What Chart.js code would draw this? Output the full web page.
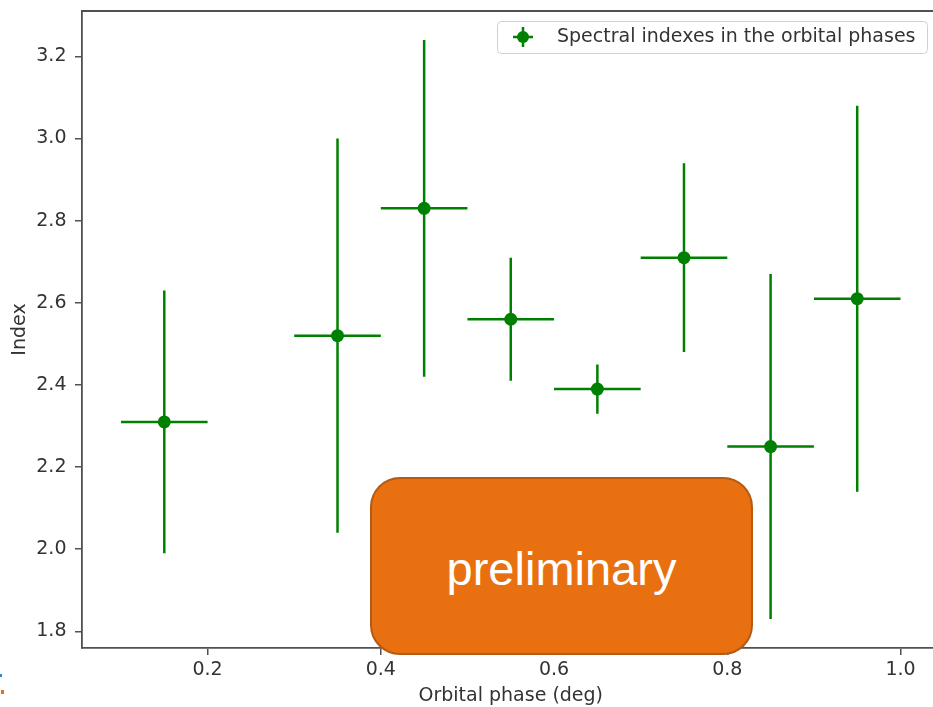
<!DOCTYPE html>
<html>
<head>
<meta charset="utf-8">
<title>Spectral indexes in the orbital phases</title>
<script src="https://cdn.jsdelivr.net/npm/chart.js@4.4.0/dist/chart.umd.min.js"></script>
<style>
  html, body { margin: 0; padding: 0; overflow: hidden; background: #fff; width: 933px; height: 707px; }
  #wrap { position: relative; width: 933px; height: 707px; overflow: hidden; }
  #plot { position: absolute; left: 0; top: 0; }
  #stamp {
    position: absolute; left: 370px; top: 477px; width: 379px; height: 170px; padding-top: 4px;
    border: 2px solid #b45a12; border-radius: 30px; background: #e97011;
    color: #fff; font-family: "Liberation Sans", Arial, sans-serif; font-size: 47px;
    display: flex; align-items: center; justify-content: center;
  }
  .dot { position: absolute; }
</style>
</head>
<body>
<div id="wrap">
  <canvas id="plot" width="946" height="707"></canvas>
  <div id="stamp">preliminary</div>
  <div class="dot" style="left:0;top:674px;width:2px;height:3px;background:#2b8ad6;"></div>
  <div class="dot" style="left:1px;top:690px;width:3px;height:4px;background:#e8711a;"></div>
</div>
<script>
// Orbital phase bins (centre and half width) and the fitted spectral index with its uncertainty
const phases       = [0.15, 0.35, 0.45, 0.55, 0.65, 0.75, 0.85, 0.95];
const phaseErrors  = [0.05, 0.05, 0.05, 0.05, 0.05, 0.05, 0.05, 0.05];
const indexValues  = [2.31, 2.52, 2.83, 2.56, 2.39, 2.71, 2.25, 2.61];
const indexErrors  = [0.32, 0.48, 0.41, 0.15, 0.06, 0.23, 0.42, 0.47];

const xTicks = [0.2, 0.4, 0.6, 0.8, 1.0];
const yTicks = [1.8, 2.0, 2.2, 2.4, 2.6, 2.8, 3.0, 3.2];

const seriesLabel = 'Spectral indexes in the orbital phases';
const xTitle = 'Orbital phase (deg)';
const yTitle = 'Index';

const GREEN = '#008000';
const AXIS = '#505050';
const TEXT = '#333333';
const FONT = '"DejaVu Sans", sans-serif';
const FONT_SIZE = 19;

// Axis limits: data extent (including error bars) padded by 5% on each side
function paddedRange(lo, hi) {
  const m = (hi - lo) * 0.05;
  return [lo - m, hi + m];
}
const [xMin, xMax] = paddedRange(
  Math.min(...phases.map((p, i) => p - phaseErrors[i])),
  Math.max(...phases.map((p, i) => p + phaseErrors[i])));
const [yMin, yMax] = paddedRange(
  Math.min(...indexValues.map((v, i) => v - indexErrors[i])),
  Math.max(...indexValues.map((v, i) => v + indexErrors[i])));

// Horizontal and vertical error bars, drawn beneath the markers
const errorBars = {
  id: 'errorBars',
  beforeDatasetsDraw(chart) {
    const { ctx, scales: { x, y } } = chart;
    ctx.save();
    ctx.strokeStyle = GREEN;
    ctx.lineWidth = 2.5;
    phases.forEach((p, i) => {
      const v = indexValues[i];
      const px = x.getPixelForValue(p);
      const py = y.getPixelForValue(v);
      ctx.beginPath();
      ctx.moveTo(x.getPixelForValue(p - phaseErrors[i]), py);
      ctx.lineTo(x.getPixelForValue(p + phaseErrors[i]), py);
      ctx.moveTo(px, y.getPixelForValue(v - indexErrors[i]));
      ctx.lineTo(px, y.getPixelForValue(v + indexErrors[i]));
      ctx.stroke();
    });
    ctx.restore();
  }
};

// Top and right spines to close the axes box
const frame = {
  id: 'frame',
  afterDraw(chart) {
    const { ctx, chartArea: a } = chart;
    ctx.save();
    ctx.strokeStyle = AXIS;
    ctx.lineWidth = 1.8;
    ctx.beginPath();
    ctx.moveTo(a.left, a.top);
    ctx.lineTo(a.right, a.top);
    ctx.lineTo(a.right, a.bottom);
    ctx.stroke();
    ctx.restore();
  }
};

// Legend box in the upper right corner with an error-bar glyph
const cornerLegend = {
  id: 'cornerLegend',
  afterDraw(chart) {
    const { ctx } = chart;
    const bx = 497, by = 21, bw = 430, bh = 32, r = 4;
    ctx.save();
    ctx.beginPath();
    ctx.roundRect(bx + 0.5, by + 0.5, bw, bh, r);
    ctx.fillStyle = 'rgba(255,255,255,0.8)';
    ctx.fill();
    ctx.strokeStyle = '#d0d0d0';
    ctx.lineWidth = 1;
    ctx.stroke();

    const mx = 523, my = 37;
    ctx.strokeStyle = GREEN;
    ctx.lineWidth = 2.5;
    ctx.beginPath();
    ctx.moveTo(mx - 10, my); ctx.lineTo(mx + 10, my);
    ctx.moveTo(mx, my - 10); ctx.lineTo(mx, my + 10);
    ctx.stroke();
    ctx.fillStyle = GREEN;
    ctx.beginPath();
    ctx.arc(mx, my, 6, 0, Math.PI * 2);
    ctx.fill();

    ctx.fillStyle = TEXT;
    ctx.font = FONT_SIZE + 'px ' + FONT;
    ctx.textAlign = 'left';
    ctx.textBaseline = 'middle';
    ctx.fillText(seriesLabel, 557, my);
    ctx.restore();
  }
};

const tickFont = { family: FONT, size: FONT_SIZE };

new Chart(document.getElementById('plot'), {
  type: 'scatter',
  data: {
    datasets: [{
      label: seriesLabel,
      data: phases.map((p, i) => ({ x: p, y: indexValues[i] })),
      backgroundColor: GREEN,
      borderColor: GREEN,
      pointRadius: 6.5,
      pointBorderWidth: 0,
      showLine: false
    }]
  },
  options: {
    responsive: false,
    animation: false,
    devicePixelRatio: 1,
    layout: { padding: { top: 11, right: 2, left: 0, bottom: 0 } },
    plugins: { legend: { display: false }, tooltip: { enabled: false } },
    scales: {
      x: {
        type: 'linear',
        min: xMin,
        max: xMax,
        afterBuildTicks(s) { s.ticks = xTicks.map(v => ({ value: v })); },
        afterFit(s) { s.height = 59; },
        grid: { drawOnChartArea: false, drawTicks: true, tickLength: 7, color: AXIS, lineWidth: 1.5 },
        border: { display: true, color: AXIS, width: 1.8 },
        ticks: { color: TEXT, font: tickFont, padding: 4, maxRotation: 0, autoSkip: false,
                 callback: v => Number(v).toFixed(1) },
        title: { display: true, text: xTitle, color: TEXT, font: tickFont, padding: { top: 0, bottom: 0 } }
      },
      y: {
        type: 'linear',
        min: yMin,
        max: yMax,
        afterBuildTicks(s) { s.ticks = yTicks.map(v => ({ value: v })); },
        afterFit(s) { s.width = 82; s.paddingTop = 0; s.paddingBottom = 0; },
        grid: { drawOnChartArea: false, drawTicks: true, tickLength: 7, color: AXIS, lineWidth: 1.5 },
        border: { display: true, color: AXIS, width: 1.8 },
        ticks: { color: TEXT, font: tickFont, padding: 8.5, autoSkip: false,
                 callback: v => Number(v).toFixed(1) },
        title: { display: true, text: yTitle, color: TEXT, font: tickFont, padding: { top: 9, bottom: 0 } }
      }
    }
  },
  plugins: [errorBars, frame, cornerLegend]
});
</script>
</body>
</html>
